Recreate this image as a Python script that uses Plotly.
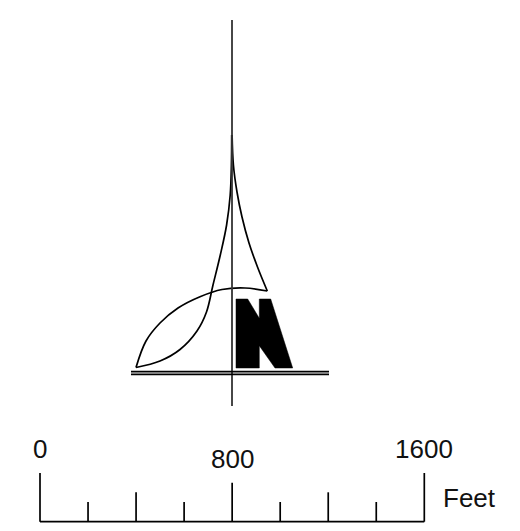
import plotly.graph_objects as go

BLACK = "#000000"

# North arrow outlines
mast_x = [232, 232]
mast_y = [20, 406]
bar_x = [131, 329]
bar_upper_y = [371.7, 371.7]
bar_lower_y = [374.3, 374.3]

left_curve_x = [231.7, 231.4, 230.2, 226.6, 220.3, 213, 206.5, 197, 180, 160, 136]
left_curve_y = [135, 165, 195, 225, 255, 285, 312, 331, 349.5, 361, 367.5]
right_curve_x = [232.1, 233.4, 237, 242, 249, 257.5, 267.3]
right_curve_y = [135, 165, 192, 217, 243, 267, 291]
arc_x = [267.3, 245, 222, 200, 178, 160, 146, 136]
arc_y = [291, 288, 289.5, 296.7, 308, 323, 341, 367.5]

letter_x = [236, 247.7, 259.3, 259.3, 270.7, 292.7, 275, 259.3, 259.3, 236, 236]
letter_y = [299, 299, 318.3, 299, 299, 368, 368, 345.7, 368, 368, 299]

# Scale bar
scale_feet = [0, 200, 400, 600, 800, 1000, 1200, 1400, 1600]
scale_tick_top = [473, 502, 492.3, 502, 482.7, 502, 492.3, 502, 473]
scale_base = 521.7
scale_labels = ["0", "800", "1600"]
scale_label_feet = [0, 800, 1600]
scale_label_y = [449, 459, 449]
unit_label = "Feet"

fig = go.Figure()


def line(x, y, width=1.7, color=BLACK, shape="linear", xaxis="x"):
    fig.add_trace(go.Scatter(x=x, y=y, mode="lines", xaxis=xaxis, hoverinfo="skip",
                             line=dict(color=color, width=width, shape=shape, smoothing=1.0,
                                       simplify=False)))


fig.add_trace(go.Scatter(x=letter_x, y=letter_y, mode="lines", fill="toself",
                         fillcolor=BLACK, line=dict(color=BLACK, width=0.5, simplify=False),
                         hoverinfo="skip"))
line(left_curve_x, left_curve_y, shape="spline")
line(right_curve_x, right_curve_y, shape="spline")
line(arc_x, arc_y, shape="spline")
line(mast_x, mast_y, width=1.8, color="#333333")
line(bar_x, bar_upper_y)
line(bar_x, bar_lower_y)

line([scale_feet[0], scale_feet[-1]], [scale_base, scale_base], xaxis="x2")
for f, top in zip(scale_feet, scale_tick_top):
    line([f, f], [top, scale_base], xaxis="x2")

FONT = dict(family="Liberation Sans, Arial, sans-serif", size=26, color="#111111")
for txt, f, y in zip(scale_labels, scale_label_feet, scale_label_y):
    fig.add_annotation(x=f, y=y, xref="x2", yref="y", text=txt, showarrow=False, font=FONT,
                       xanchor="center", yanchor="middle")
fig.add_annotation(x=1668, y=498, xref="x2", yref="y", text=unit_label, showarrow=False,
                   font=FONT, xanchor="left", yanchor="middle")

# The page keeps its 8 px body margin, so the figure starts at pixel (8, 8).
px_per_foot = (424.3 - 40) / 1600
hidden = dict(visible=False, showgrid=False, zeroline=False, fixedrange=True)
fig.update_layout(
    width=512, height=523, autosize=False,
    margin=dict(l=0, r=0, t=0, b=0, pad=0),
    paper_bgcolor="white", plot_bgcolor="white", showlegend=False,
    xaxis=dict(range=[8, 520], domain=[0, 1], **hidden),
    xaxis2=dict(range=[-32 / px_per_foot, 480 / px_per_foot], overlaying="x", **hidden),
    yaxis=dict(range=[531, 8], domain=[0, 1], **hidden),
)
fig.write_html("out.html", config=dict(displayModeBar=False))
